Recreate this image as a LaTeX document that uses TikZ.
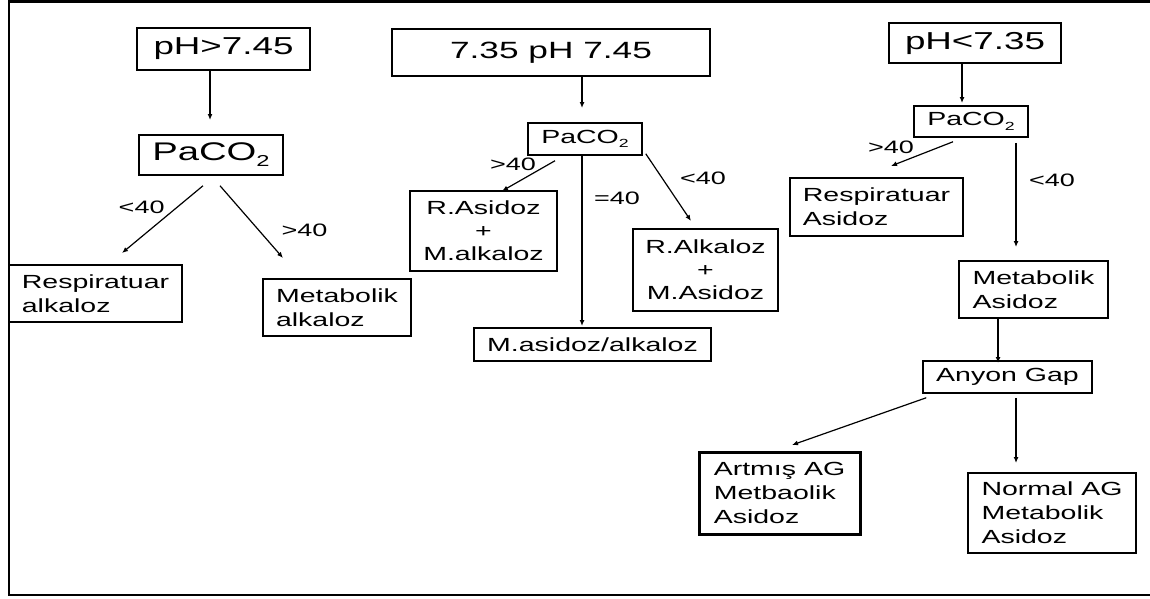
\documentclass[tikz,border=0pt]{standalone}
\usepackage{fontspec}
\setmainfont{Liberation Sans}[FakeStretch=1.5]
\usetikzlibrary{arrows.meta,positioning}
\newcommand{\lowtwo}{\raisebox{-0.45ex}{\scalebox{0.62}{2}}}
\tikzset{ph box/.style={draw=black, rectangle, line width=1.5pt, inner sep=1pt, font=\fontsize{24.5}{27}\selectfont},
  gas box/.style={draw=black, rectangle, line width=1.5pt, inner sep=1pt, font=\fontsize{19}{22}\selectfont},
  result/.style={draw=black, rectangle, line width=1.5pt, inner sep=1pt, align=left, font=\fontsize{19}{24}\selectfont},
  limit/.style={inner sep=0pt, font=\fontsize{18}{20}\selectfont}}

\begin{document}
\begin{tikzpicture}[x=1pt, y=-1pt, >={Latex[length=6pt,width=5pt]}, every path/.style={line width=1.2pt}]
\useasboundingbox (0,0) rectangle (1150,598);
\draw[line width=2.6pt] (1150,1.3) -- (9,1.3) -- (9,595) -- (1150,595);

% pH > 7.45
\node[ph box, minimum width=173pt, minimum height=42pt] (ph1) at (223.5,49) {pH>7.45};
\node[ph box, minimum width=144pt, minimum height=40pt, font=\fontsize{25.5}{27}\selectfont] (pc1) at (211,155) {PaCO\lowtwo};
\node[result, minimum width=173pt, minimum height=57pt] (ralk) at (95.5,293.5) {Respiratuar\\alkaloz};
\node[result, minimum width=148pt, minimum height=57pt] (malk) at (337,307.5) {Metabolik\\alkaloz};
\coordinate (e1) at (210,120);
\coordinate (e2) at (122,253);
\coordinate (e3) at (283,258);
\draw[->] (ph1.south -| e1) -- (e1);
\draw[->] ([xshift=-8pt,yshift=-10pt]pc1.south) -- node[limit, pos=0.45, above left=2pt] (l1) {<40} (e2);
\draw[->] ([xshift=9pt,yshift=-10pt]pc1.south) -- node[limit, pos=0.62, right=22pt] (l2) {>40} (e3);

% 7.35 pH 7.45
\node[ph box, minimum width=318pt, minimum height=47pt, font=\fontsize{23.5}{27}\selectfont] (ph2) at (551,52.5) {7.35 pH 7.45};
\node[gas box, minimum width=114pt, minimum height=32pt] (pc2) at (585,139) {PaCO\lowtwo};
\node[result, align=center, minimum width=147pt, minimum height=80pt, font=\fontsize{19}{23}\selectfont] (rasm) at (483.5,231) {R.Asidoz\\+\\M.alkaloz};
\node[result, align=center, minimum width=145pt, minimum height=82pt, font=\fontsize{19}{23}\selectfont] (ralm) at (705.5,270) {R.Alkaloz\\+\\M.Asidoz};
\node[result, minimum width=237pt, minimum height=33pt] (mix) at (592.5,344.5) {M.asidoz/alkaloz};
\coordinate (e4) at (582,108);
\coordinate (e5) at (502,191);
\coordinate (e6) at (582,326);
\coordinate (e7) at (691,221);
\draw[->] (ph2.south -| e4) -- (e4);
\draw[->] ([xshift=-30pt,yshift=-5pt]pc2.south) -- (e5);
\draw[->] (pc2.south -| e6) -- (e6);
\draw[->] ([xshift=3pt,yshift=2pt]pc2.south east) -- (e7);
\node[limit] (l3) at (513,164) {>40};
\node[limit] (l4) at (617,198) {=40};
\node[limit] (l5) at (703,178) {<40};

% pH < 7.35
\node[ph box, minimum width=172pt, minimum height=40pt] (ph3) at (975,43) {pH<7.35};
\node[gas box, minimum width=114pt, minimum height=31pt] (pc3) at (971,121.5) {PaCO\lowtwo};
\node[result, minimum width=173pt, minimum height=58pt] (rasi) at (876.5,207) {Respiratuar\\Asidoz};
\node[result, minimum width=149pt, minimum height=57pt] (masi) at (1033.5,289.5) {Metabolik\\Asidoz};
\node[result, minimum width=169pt, minimum height=32pt] (ag) at (1007.5,377) {Anyon Gap};
\node[result, line width=3pt, minimum width=161pt, minimum height=82pt] (agh) at (779.5,493) {Artmış AG\\Metbaolik\\Asidoz};
\node[result, minimum width=168pt, minimum height=80pt] (agn) at (1052,513) {Normal AG\\Metabolik\\Asidoz};
\coordinate (e8) at (962,103);
\coordinate (e9) at (891,166);
\coordinate (e10) at (1016,247);
\coordinate (e11) at (998,363);
\coordinate (e12) at (792,445);
\coordinate (e13) at (1016,463);
\draw[->] (ph3.south -| e8) -- (e8);
\draw[->] ([xshift=-18pt,yshift=-4pt]pc3.south) -- (e9);
\draw[->] ([yshift=-5pt]pc3.south -| e10) -- (e10);
\draw[->] (masi.south -| e11) -- (e11);
\draw[->] ([xshift=4pt,yshift=-4pt]ag.south west) -- (e12);
\draw[->] ([yshift=-4pt]ag.south -| e13) -- (e13);
\node[limit] (l6) at (891,147) {>40};
\node[limit] (l7) at (1052,180) {<40};
\end{tikzpicture}
\end{document}
